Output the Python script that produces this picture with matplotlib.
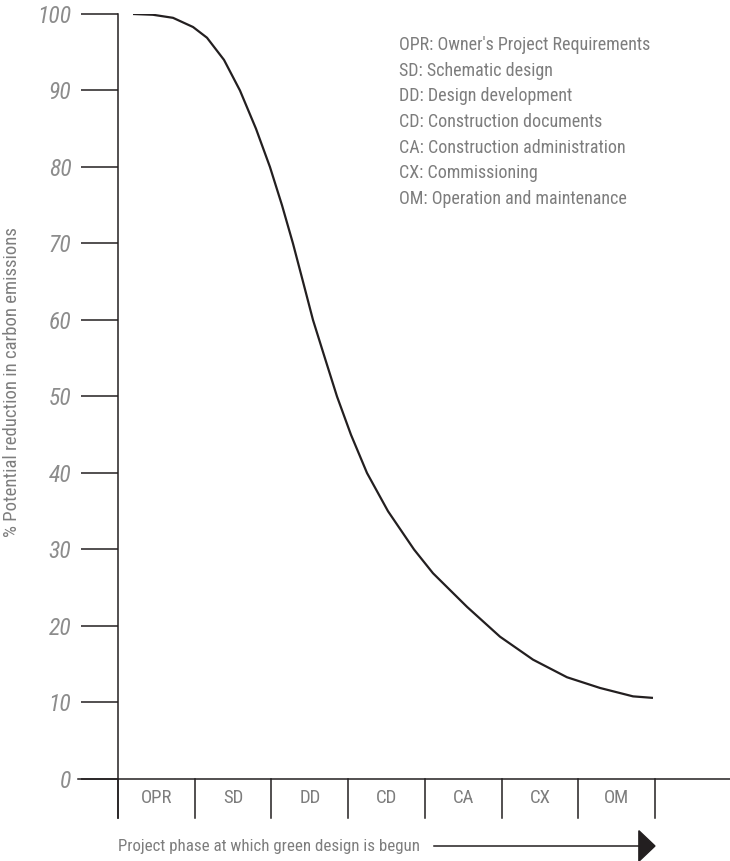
import matplotlib
matplotlib.use('Agg')
import matplotlib.pyplot as plt
from matplotlib.patches import Polygon

plt.rcParams['font.family'] = ['Roboto Condensed', 'Roboto', 'DejaVu Sans']

# --- data ---
phases = ['OPR', 'SD', 'DD', 'CD', 'CA', 'CX', 'OM']
phase_names = [
    "OPR: Owner's Project Requirements",
    'SD: Schematic design',
    'DD: Design development',
    'CD: Construction documents',
    'CA: Construction administration',
    'CX: Commissioning',
    'OM: Operation and maintenance',
]
# position along the phase axis (1 unit = 1 phase) and % reduction
curve_x = [0.196, 0.456, 0.717, 0.978, 1.160, 1.382, 1.590, 1.799, 1.981,
           2.138, 2.281, 2.412, 2.542, 2.698, 2.855, 3.037, 3.246, 3.520,
           3.859, 4.106, 4.550, 4.980, 5.410, 5.853, 6.283, 6.714, 6.974]
curve_y = [100.0, 99.9, 99.5, 98.3, 96.9, 94.0, 90.0, 85.0, 80.0,
           75.0, 70.0, 65.0, 60.0, 55.0, 50.0, 45.0, 40.0, 35.0,
           30.0, 26.9, 22.5, 18.6, 15.6, 13.3, 11.9, 10.8, 10.6]
yticks = [0, 10, 20, 30, 40, 50, 60, 70, 80, 90, 100]

ink = '#231f20'
grey = '#7d7d7d'

fig = plt.figure(figsize=(7.3, 8.61), dpi=100)
ax = fig.add_axes([118 / 730, 43 / 861, 1 - 118 / 730, 804 / 861])
ax.set_xlim(0, 612 / 76.71)
ax.set_ylim(-5.1, 100)

for s in ['top', 'right', 'bottom']:
    ax.spines[s].set_visible(False)
ax.spines['left'].set_color(ink)
ax.spines['left'].set_linewidth(1.1)

ax.set_xticks([])
ax.set_yticks(yticks)
ax.set_yticklabels([str(v) for v in yticks], style='italic')
ax.tick_params(axis='y', direction='out', length=26.5, width=1.1, color=ink,
               labelsize=17, labelcolor='#8c8c8c', pad=7)

# x axis line running left to the 0 tick and right to the edge
ax.plot([-0.52, 612 / 76.71], [0, 0], color=ink, lw=1.1, clip_on=False)

# phase separators and labels
for i in range(len(phases) + 1):
    ax.plot([i, i], [0, -5.1], color=ink, lw=1.1, clip_on=False)
for i, p in enumerate(phases):
    ax.text(i + 0.5, -2.5, p, ha='center', va='center', fontsize=13.5, color=grey)

# the curve
ax.plot(curve_x, curve_y, color=ink, lw=1.6, solid_capstyle='butt',
        solid_joinstyle='round')

# phase name list
for i, name in enumerate(phase_names):
    fig.text(399 / 730, 1 - (45 + 25.7 * i) / 861, name, ha='left', va='center',
             fontsize=13, color=grey)

# axis titles
fig.text(12 / 730, 1 - 382 / 861, '% Potential reduction in carbon emissions',
         rotation=90, ha='center', va='center', fontsize=13.5, color=grey)
fig.text(118 / 730, 1 - 846 / 861, 'Project phase at which green design is begun',
         ha='left', va='center', fontsize=12.2, color=grey)

# arrow after the x title
arrow_y = -(846 - 779) / 7.65
ax.plot([(434 - 118) / 76.71, 6.8], [arrow_y, arrow_y], color=ink, lw=1.1,
        clip_on=False)
head = Polygon([[6.79, arrow_y + 2.0], [6.79, arrow_y - 2.0], [7.0, arrow_y]],
               closed=True, color=ink, clip_on=False)
ax.add_patch(head)

fig.savefig('out.png', dpi=100)
